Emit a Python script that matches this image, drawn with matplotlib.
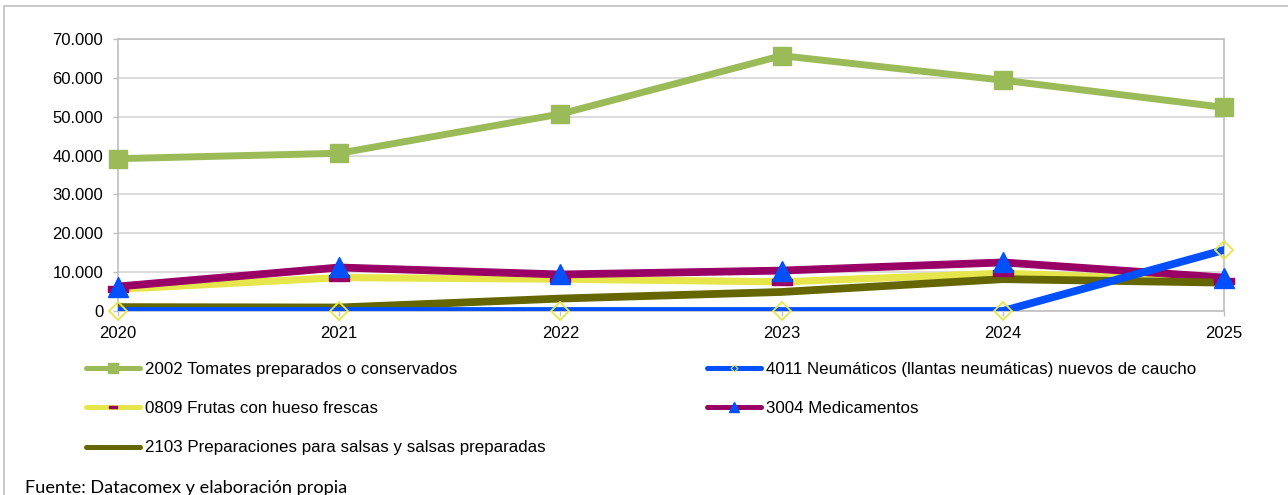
import numpy as np
import matplotlib
matplotlib.use("Agg")
import matplotlib.pyplot as plt
from matplotlib.lines import Line2D
from matplotlib.patches import Rectangle
from matplotlib.ticker import FuncFormatter, MultipleLocator

# ---------------------------------
# DATA
# ---------------------------------
years = [2020, 2021, 2022, 2023, 2024, 2025]

tomates = [39200, 40600, 50700, 65700, 59400, 52400]
neumaticos = [0, 0, 0, 0, 0, 15700]
frutas = [5600, 8600, 8200, 7500, 9700, 7700]
medicamentos = [6300, 11200, 9400, 10400, 12500, 8600]
salsas = [1000, 900, 3200, 4900, 8200, 7300]

lbl_tomates = "2002 Tomates preparados o conservados"
lbl_neumaticos = "4011 Neumáticos (llantas neumáticas) nuevos de caucho"
lbl_frutas = "0809 Frutas con hueso frescas"
lbl_medicamentos = "3004 Medicamentos"
lbl_salsas = "2103 Preparaciones para salsas y salsas preparadas"

source_txt = "Fuente: Datacomex y elaboración propia"

# colours
c_green = "#9BBB59"
c_blue = "#0050FF"
c_yellow = "#E6E64C"
c_purple = "#990066"
c_olive = "#666600"
c_grey = "#BFBFBF"

plt.rcParams["font.family"] = ["Liberation Sans", "DejaVu Sans"]

W, H = 1288, 495
fig = plt.figure(figsize=(W / 100, H / 100), dpi=100)

# plot area in pixels: x 118..1224, y 39..311
ax = fig.add_axes([118 / W, 1 - 311 / H, (1224 - 118) / W, (311 - 39) / H])

# dash-like marker (wide, short rectangle)
dash = np.array([[-1, -0.3], [1, -0.3], [1, 0.3], [-1, 0.3], [-1, -0.3]])

# ---------------------------------
# LINES
# ---------------------------------
line_kw = dict(solid_joinstyle="round", solid_capstyle="round")
ax.plot(years, frutas, color=c_yellow, lw=5.2, zorder=2, **line_kw)
ax.plot(years, medicamentos, color=c_purple, lw=5.6, zorder=3, **line_kw)
ax.plot(years, salsas, color=c_olive, lw=5.6, zorder=4, **line_kw)
ax.plot(years, tomates, color=c_green, lw=5.0, zorder=4, **line_kw)
ax.plot(years, neumaticos, color=c_blue, lw=5.6, zorder=5, **line_kw)

# markers on top
ax.plot(years, frutas, ls="none", marker=dash, ms=14, color=c_purple,
        zorder=6, clip_on=False)
ax.plot(years, medicamentos, ls="none", marker="^", ms=14, color=c_blue,
        zorder=7, clip_on=False)
ax.plot(years, neumaticos, ls="none", marker="D", ms=9.5, mfc="none",
        mec=c_yellow, mew=1.3, zorder=8, clip_on=False)
ax.plot(years, tomates, ls="none", marker="s", ms=13.5, color=c_green,
        zorder=8, clip_on=False)

# ---------------------------------
# AXES
# ---------------------------------
ax.set_xlim(2020, 2025)
ax.set_ylim(0, 70000)
ax.set_xticks(years)
ax.yaxis.set_major_locator(MultipleLocator(10000))
ax.yaxis.set_major_formatter(FuncFormatter(lambda v, p: f"{int(v):,}".replace(",", ".")))
ax.grid(axis="y", color="#D9D9D9", lw=1.3, zorder=0)
ax.set_axisbelow(True)
for s in ax.spines.values():
    s.set_color(c_grey)
    s.set_linewidth(1.2)
ax.tick_params(axis="y", length=3.6, width=1, color=c_grey, labelsize=12, pad=7)
ax.tick_params(axis="x", length=3.6, width=1, color=c_grey, labelsize=12, pad=7)

# ---------------------------------
# LEGEND (two columns, placed separately)
# ---------------------------------
def handle(color, lw, **kw):
    return Line2D([0], [0], color=color, lw=lw, solid_capstyle="round", **kw)

h_tom = handle(c_green, 3.6, marker="s", ms=7, mfc=c_green, mec=c_green)
h_neu = handle(c_blue, 3.6, marker="D", ms=3.5, mfc="none", mec=c_yellow, mew=0.8)
h_fru = handle(c_yellow, 3.6, marker=dash, ms=6, mfc=c_purple, mec=c_purple)
h_med = handle(c_purple, 3.6, marker="^", ms=7, mfc=c_blue, mec=c_blue)
h_sal = handle(c_olive, 3.6)

leg_kw = dict(loc="upper left", frameon=False, fontsize=12.2, borderpad=0,
              borderaxespad=0, handlelength=3.2, handletextpad=0.3,
              labelspacing=1.43, bbox_transform=fig.transFigure)
leg1 = fig.legend([h_tom, h_fru, h_sal], [lbl_tomates, lbl_frutas, lbl_salsas],
                  bbox_to_anchor=(86 / W, 1 - 362 / H), **leg_kw)
leg2 = fig.legend([h_neu, h_med], [lbl_neumaticos, lbl_medicamentos],
                  bbox_to_anchor=(707 / W, 1 - 362 / H), **leg_kw)

# source note
fig.text(25 / W, 1 - 493 / H, source_txt, fontsize=13.1, family=["Lato", "DejaVu Sans"],
         va="baseline", ha="left", color="#000000")

# outer frame (right and bottom run off the image)
fig.add_artist(Rectangle((4 / W, -0.05), 1.2, (H - 5.5) / H + 0.05,
                         transform=fig.transFigure, fill=False,
                         ec=c_grey, lw=1.2))

fig.savefig("out.png", dpi=100)
